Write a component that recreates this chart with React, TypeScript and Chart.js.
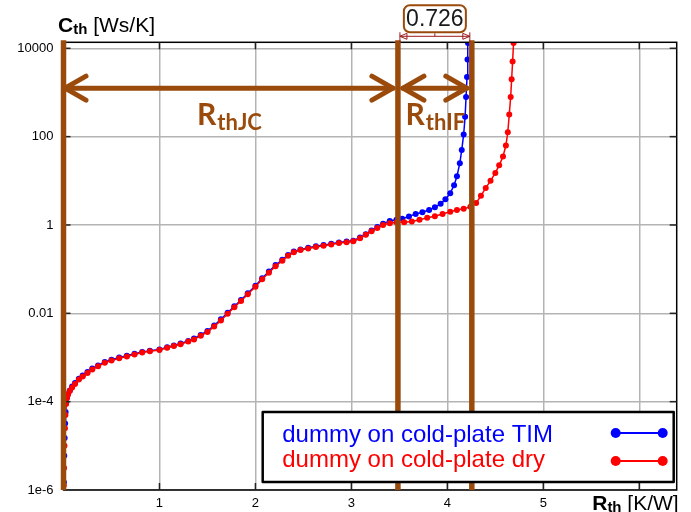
import React, { useEffect, useRef } from 'react';
import { Chart, registerables } from 'chart.js';

Chart.register(...registerables);

// ---- data ----
const seriesLabels = ['dummy on cold-plate TIM', 'dummy on cold-plate dry'];
const seriesColors = ['#0000ff', '#ff0000'];

// Rth [K/W] / Cth [Ws/K] – TIM
const tiRth = [
  0.004, 0.008, 0.012, 0.017, 0.022, 0.028, 0.036, 0.048, 0.066, 0.09,
  0.12, 0.16, 0.2, 0.25, 0.3, 0.36, 0.43, 0.5, 0.58, 0.66,
  0.74, 0.82, 0.9, 1.0, 1.08, 1.15, 1.22, 1.3, 1.36, 1.43,
  1.5, 1.57, 1.64, 1.71, 1.78, 1.85, 1.92, 2.0, 2.07, 2.14,
  2.21, 2.28, 2.34, 2.4, 2.47, 2.55, 2.63, 2.71, 2.79, 2.87,
  2.95, 3.02, 3.09, 3.15, 3.21, 3.27, 3.33, 3.4, 3.47, 3.53,
  3.6, 3.67, 3.74, 3.81, 3.87, 3.93, 3.98, 4.03, 4.07, 4.1,
  4.13, 4.15, 4.17, 4.185, 4.195, 4.205, 4.21, 4.215,
];
const tiCth = [
  1.5e-6, 6e-6, 1.5e-5, 3.2e-5, 5.8e-5, 9.5e-5, 1.25e-4, 1.5e-4, 1.8e-4, 2.2e-4,
  2.65e-4, 3.3e-4, 3.9e-4, 4.7e-4, 5.6e-4, 6.6e-4, 7.9e-4, 8.9e-4, 1.0e-3, 1.1e-3,
  1.21e-3, 1.33e-3, 1.42e-3, 1.52e-3, 1.7e-3, 1.87e-3, 2.07e-3, 2.37e-3, 2.68e-3, 3.24e-3,
  4.0e-3, 5.3e-3, 7.3e-3, 1.03e-2, 1.45e-2, 2.0e-2, 2.85e-2, 4.2e-2, 6.2e-2, 8.8e-2,
  0.124, 0.163, 0.21, 0.25, 0.28, 0.305, 0.33, 0.35, 0.375, 0.4,
  0.42, 0.44, 0.52, 0.62, 0.75, 0.9, 1.07, 1.23, 1.32, 1.38,
  1.55, 1.78, 1.95, 2.19, 2.51, 3.02, 3.8, 5.25, 7.9, 12.6,
  25, 50, 112, 282, 794, 2240, 5600, 13200,
];

// Rth [K/W] / Cth [Ws/K] – dry
const dryRth = [
  0.003, 0.006, 0.01, 0.015, 0.02, 0.027, 0.035, 0.047, 0.065, 0.09,
  0.12, 0.16, 0.2, 0.25, 0.3, 0.36, 0.43, 0.5, 0.58, 0.66,
  0.74, 0.82, 0.9, 1.0, 1.08, 1.15, 1.22, 1.3, 1.36, 1.43,
  1.5, 1.57, 1.64, 1.71, 1.78, 1.85, 1.92, 2.0, 2.07, 2.14,
  2.21, 2.28, 2.34, 2.4, 2.47, 2.55, 2.63, 2.71, 2.79, 2.87,
  2.95, 3.02, 3.09, 3.15, 3.21, 3.27, 3.33, 3.4, 3.47, 3.55,
  3.63, 3.71, 3.79, 3.87, 3.95, 4.03, 4.1, 4.17, 4.24, 4.3,
  4.35, 4.4, 4.45, 4.5, 4.54, 4.58, 4.61, 4.63, 4.645, 4.66,
  4.67, 4.68, 4.69,
];
const dryCth = [
  1.26e-6, 3.16e-6, 1.0e-5, 2.5e-5, 5.0e-5, 8.9e-5, 1.2e-4, 1.45e-4, 1.74e-4, 2.09e-4,
  2.51e-4, 3.16e-4, 3.72e-4, 4.47e-4, 5.37e-4, 6.31e-4, 7.59e-4, 8.5e-4, 9.55e-4, 1.05e-3,
  1.17e-3, 1.29e-3, 1.38e-3, 1.48e-3, 1.66e-3, 1.82e-3, 2.0e-3, 2.29e-3, 2.57e-3, 3.09e-3,
  3.8e-3, 5.0e-3, 6.9e-3, 9.8e-3, 1.38e-2, 1.9e-2, 2.7e-2, 3.98e-2, 5.9e-2, 8.3e-2,
  0.117, 0.155, 0.2, 0.24, 0.27, 0.295, 0.316, 0.339, 0.363, 0.389,
  0.407, 0.427, 0.5, 0.6, 0.72, 0.85, 1.0, 1.1, 1.15, 1.15,
  1.2, 1.32, 1.45, 1.58, 1.78, 2.0, 2.19, 2.34, 2.57, 3.16,
  4.57, 6.9, 10, 15.1, 22.4, 35.5, 63, 126, 316, 794,
  2000, 5000, 13200,
];

const xTicks = [0, 1, 2, 3, 4, 5, 6];
const xTickLabels = ['', '1', '2', '3', '4', '5', ''];
const yTicks = [1e-6, 1e-4, 1e-2, 1, 100, 10000];
const yTickLabels = ['1e-6', '1e-4', '0.01', '1', '100', '10000'];
const xMin = 0;
const xMax = 6.39;
const yMin = 1e-6;
const yMax = 13670;

// annotation values
const markerRth = [0, 3.485, 4.255];
const arrowCth = 1250;
const arrowLabels = [['R', 'thJC'], ['R', 'thIF']];
const deltaLabel = '0.726';
const yTitle = ['C', 'th', ' [Ws/K]'];
const xTitle = ['R', 'th', ' [K/W]'];

const FONT = '"Liberation Sans", Arial, sans-serif';
const BROWN = '#9a4b0c';
const DIM = '#9a1c1c';

const overlay = {
  id: 'overlay',
  afterDraw(chart: any) {
    const { ctx, chartArea: a, scales } = chart;
    const xs = scales.x;
    const ys = scales.y;
    const seg = (x1: number, y1: number, x2: number, y2: number) => {
      ctx.beginPath();
      ctx.moveTo(x1, y1);
      ctx.lineTo(x2, y2);
      ctx.stroke();
    };
    ctx.save();

    // frame + inward ticks
    ctx.strokeStyle = '#000';
    ctx.lineWidth = 1.5;
    ctx.strokeRect(a.left, a.top, a.right - a.left, a.bottom - a.top);
    ctx.strokeStyle = '#222';
    xTicks.forEach((v) => {
      const px = xs.getPixelForValue(v);
      if (px <= a.left + 1) return;
      seg(px, a.bottom, px, a.bottom - 7);
      seg(px, a.top, px, a.top + 7);
    });
    yTicks.forEach((v) => {
      const py = ys.getPixelForValue(v);
      if (py >= a.bottom - 1) return;
      seg(a.left, py, a.left + 7, py);
      seg(a.right, py, a.right - 7, py);
    });

    // brown vertical lines
    const mx = markerRth.map((v) => xs.getPixelForValue(v));
    ctx.strokeStyle = BROWN;
    ctx.lineWidth = 5.5;
    ctx.lineCap = 'butt';
    mx.forEach((px) => seg(px, a.top - 2, px, a.bottom));

    // double arrows
    const ay = ys.getPixelForValue(arrowCth);
    ctx.lineWidth = 5;
    ctx.lineCap = 'round';
    ctx.lineJoin = 'round';
    const arrow = (x1: number, x2: number) => {
      seg(x1, ay, x2, ay);
      ctx.beginPath();
      ctx.moveTo(x1 + 21, ay - 12);
      ctx.lineTo(x1, ay);
      ctx.lineTo(x1 + 21, ay + 12);
      ctx.stroke();
      ctx.beginPath();
      ctx.moveTo(x2 - 21, ay - 12);
      ctx.lineTo(x2, ay);
      ctx.lineTo(x2 - 21, ay + 12);
      ctx.stroke();
    };
    const spans = [
      [mx[0] + 1.5, mx[1] - 5],
      [mx[1] + 5, mx[2] - 5],
    ];
    spans.forEach(([x1, x2]) => arrow(x1, x2));

    // R_th labels
    ctx.fillStyle = BROWN;
    ctx.textBaseline = 'alphabetic';
    ctx.textAlign = 'left';
    spans.forEach(([x1, x2], i) => {
      const [m, s] = arrowLabels[i];
      ctx.font = 'bold 30px Lato, sans-serif';
      const w1 = ctx.measureText(m).width;
      ctx.font = 'bold 22px Lato, sans-serif';
      const w2 = ctx.measureText(s).width;
      const sx = (x1 + x2) / 2 - (w1 + w2) / 2;
      ctx.font = 'bold 30px Lato, sans-serif';
      ctx.fillText(m, sx, ay + 37);
      ctx.font = 'bold 22px Lato, sans-serif';
      ctx.fillText(s, sx + w1 + 1, ay + 42);
    });

    // dimension 0.726
    const d1 = mx[1] + 2;
    const d2 = mx[2] - 2;
    const dy = a.top - 6;
    const cx = (d1 + d2) / 2;
    ctx.strokeStyle = DIM;
    ctx.lineWidth = 1;
    ctx.lineCap = 'butt';
    seg(d1, dy, d2, dy);
    seg(d1, a.top - 10, d1, a.top);
    seg(d2, a.top - 10, d2, a.top);
    seg(cx, a.top - 9, cx, dy);
    ctx.beginPath();
    ctx.moveTo(d1, dy);
    ctx.lineTo(d1 + 7, dy - 3);
    ctx.lineTo(d1 + 7, dy + 3);
    ctx.closePath();
    ctx.stroke();
    ctx.beginPath();
    ctx.moveTo(d2, dy);
    ctx.lineTo(d2 - 7, dy - 3);
    ctx.lineTo(d2 - 7, dy + 3);
    ctx.closePath();
    ctx.stroke();
    const bw = 62;
    const bh = 27;
    const bx = cx - bw / 2;
    const by = a.top - 37;
    ctx.strokeStyle = BROWN;
    ctx.lineWidth = 2;
    ctx.fillStyle = '#fff';
    ctx.beginPath();
    (ctx as any).roundRect(bx, by, bw, bh, 6);
    ctx.fill();
    ctx.stroke();
    ctx.fillStyle = '#1a1a1a';
    ctx.font = `23px ${FONT}`;
    ctx.textAlign = 'center';
    ctx.textBaseline = 'middle';
    ctx.fillText(deltaLabel, cx, by + bh / 2 + 1);

    // axis titles
    ctx.textAlign = 'left';
    ctx.textBaseline = 'alphabetic';
    ctx.fillStyle = '#000';
    const title = (parts: string[], x: number, base: number, alignRight: boolean) => {
      const fonts = [`bold 21px ${FONT}`, `bold 15px ${FONT}`, `21px ${FONT}`];
      const ws = parts.map((p, i) => {
        ctx.font = fonts[i];
        return ctx.measureText(p).width;
      });
      let sx = alignRight ? x - ws.reduce((s, w) => s + w, 0) : x;
      parts.forEach((p, i) => {
        ctx.font = fonts[i];
        ctx.fillText(p, sx, i === 1 ? base + 2 : base);
        sx += ws[i];
      });
    };
    title(yTitle, a.left - 5.5, a.top - 10, false);
    title(xTitle, a.right + 2, a.bottom + 20, true);

    // legend
    const lw = 411;
    const lh = 70;
    const lx = a.right - 414;
    const ly = a.bottom - 78;
    ctx.fillStyle = '#fff';
    ctx.fillRect(lx, ly, lw, lh);
    ctx.strokeStyle = '#000';
    ctx.lineWidth = 2.5;
    ctx.strokeRect(lx, ly, lw, lh);
    ctx.font = `24px ${FONT}`;
    const textBase = [30, 55];
    const sampleY = [21, 49];
    seriesLabels.forEach((lab, i) => {
      ctx.fillStyle = seriesColors[i];
      ctx.fillText(lab, lx + 19.5, ly + textBase[i]);
      ctx.strokeStyle = seriesColors[i];
      ctx.lineWidth = 2;
      const sy = ly + sampleY[i];
      const s1 = lx + lw - 58;
      const s2 = lx + lw - 11;
      seg(s1, sy, s2, sy);
      [s1, s2].forEach((px) => {
        ctx.beginPath();
        ctx.arc(px, sy, 5, 0, Math.PI * 2);
        ctx.fill();
      });
    });

    ctx.restore();
  },
};

export default function App() {
  const ref = useRef<HTMLCanvasElement | null>(null);

  useEffect(() => {
    if (!ref.current) return;
    const mk = (xsArr: number[], ysArr: number[]) => xsArr.map((x, i) => ({ x, y: ysArr[i] }));
    const chart = new Chart(ref.current, {
      type: 'scatter',
      data: {
        datasets: [
          {
            label: seriesLabels[0],
            data: mk(tiRth, tiCth),
            showLine: true,
            order: 2,
            borderColor: seriesColors[0],
            backgroundColor: seriesColors[0],
            borderWidth: 1.5,
            pointRadius: 3,
            pointBorderWidth: 0,
          },
          {
            label: seriesLabels[1],
            data: mk(dryRth, dryCth),
            showLine: true,
            order: 1,
            borderColor: seriesColors[1],
            backgroundColor: seriesColors[1],
            borderWidth: 1.5,
            pointRadius: 3,
            pointBorderWidth: 0,
          },
        ],
      },
      options: {
        responsive: false,
        animation: false,
        events: [],
        layout: { padding: { top: 42.3, right: 14.3, left: 0, bottom: 0 } },
        plugins: { legend: { display: false }, tooltip: { enabled: false } },
        scales: {
          x: {
            type: 'linear',
            min: xMin,
            max: xMax,
            afterBuildTicks: (s: any) => {
              s.ticks = xTicks.map((v) => ({ value: v }));
            },
            afterFit: (s: any) => {
              s.height = 22;
            },
            ticks: {
              callback: (_v: any, i: number) => xTickLabels[i],
              color: '#000',
              font: { size: 13, family: FONT },
              padding: 6,
              maxRotation: 0,
              autoSkip: false,
            },
            grid: { color: '#b4b4b4', lineWidth: 1.5, drawTicks: false },
            border: { display: false },
          },
          y: {
            type: 'logarithmic',
            min: yMin,
            max: yMax,
            afterBuildTicks: (s: any) => {
              s.ticks = yTicks.map((v) => ({ value: v }));
            },
            afterFit: (s: any) => {
              s.width = 63.5;
            },
            ticks: {
              callback: (_v: any, i: number) => yTickLabels[i],
              color: '#000',
              font: { size: 13, family: FONT },
              padding: 10,
              autoSkip: false,
            },
            grid: { color: '#b4b4b4', lineWidth: 1.5, drawTicks: false },
            border: { display: false },
          },
        },
      } as any,
      plugins: [overlay],
    });
    return () => chart.destroy();
  }, []);

  return (
    <div style={{ position: 'fixed', left: 0, top: 0, width: 691, height: 512, background: '#fff' }}>
      <canvas ref={ref} width={691} height={512} style={{ display: 'block' }} />
    </div>
  );
}
